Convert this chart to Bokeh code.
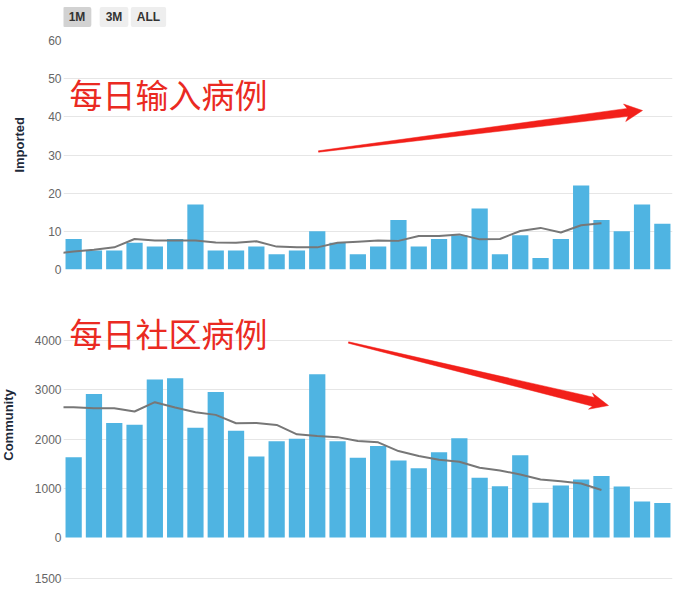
import math
from bokeh.plotting import figure
from bokeh.layouts import column, row
from bokeh.models import Label, FixedTicker, Range1d
from bokeh.embed import file_html
from bokeh.resources import INLINE

# ---------------- data ----------------
imported = [8, 5, 5, 7, 6, 8, 17, 5, 5, 6, 4, 5, 10, 7, 4, 6, 13, 6, 8, 9,
            16, 4, 9, 3, 8, 22, 13, 10, 17, 12]
community = [1630, 2915, 2325, 2290, 3207, 3234, 2230, 2956, 2170, 1647,
             1953, 2007, 3315, 1953, 1620, 1860, 1562, 1405, 1732, 2017,
             1212, 1042, 1670, 705, 1058, 1178, 1250, 1037, 732, 698]
# 7-day averages, day index -1 .. 26
avg_days = list(range(-1, 27))
imported_avg = [4.1, 4.7, 5.2, 5.8, 8.0, 7.6, 7.6, 7.6, 7.1, 7.0, 7.4, 6.0,
                5.8, 5.8, 7.0, 7.3, 7.6, 7.5, 8.8, 8.8, 9.2, 7.9, 8.0, 10.1,
                10.9, 9.7, 11.6, 12.1]
community_avg = [2646, 2646, 2626, 2626, 2558, 2748, 2639, 2544, 2490, 2320,
                 2327, 2286, 2095, 2061, 2038, 1959, 1932, 1755, 1653, 1578,
                 1537, 1415, 1361, 1279, 1177, 1143, 1095, 966]
days = list(range(len(imported)))

top_ticks = [0, 10, 20, 30, 40, 50, 60]
bot_ticks = [0, 1000, 2000, 3000, 4000]
next_pane_tick_label = "1500"
buttons = ["1M", "3M", "ALL"]
title_top = "每日输入病例"
title_bot = "每日社区病例"
axis_title_top = "Imported"
axis_title_bot = "Community"

# ---------------- style / geometry (page px) ----------------
BAR = "#4fb4e2"
AVG = "#777777"
GRID = "#e6e6e6"
RED_TXT = "#ea2a22"
RED_ARR = "#f2201a"
TICK_FONT = "Liberation Sans"
CJK = "Noto Sans CJK SC"
TITLE_COL = "#1e2a3a"

LBL_W = 30           # width of the side strip holding the axis titles
FRAME_L = 63
FRAME_W = 609
RIGHT = 14
XR = (-0.5, len(days) - 0.5)

# top pane
T_FTOP, T_FBOT = 2, 269
T_ZERO, T_PPU = 269, 229 / 60
T_GAP = 20
T_H = T_FTOP + (T_FBOT - T_FTOP) + T_GAP
# bottom pane
B_Y0 = T_H
B_FTOP, B_FBOT = 295, 590
B_ZERO, B_PPU = 537, 197 / 4000
B_H = (B_FTOP - B_Y0) + (B_FBOT - B_FTOP) + 2


def px_x(px):
    return XR[0] + (px - FRAME_L) / FRAME_W * (XR[1] - XR[0])


def ty(py):
    return (T_ZERO - py) / T_PPU


def by(py):
    return (B_ZERO - py) / B_PPU


def arrow_poly(tail, tip, w0, w1, head_len, head_half):
    dx, dy = tip[0] - tail[0], tip[1] - tail[1]
    L = math.hypot(dx, dy)
    ux, uy = dx / L, dy / L
    nx, ny = -uy, ux
    bx, by_ = tip[0] - ux * head_len, tip[1] - uy * head_len
    return [
        (tail[0] + nx * w0, tail[1] + ny * w0),
        (bx + nx * w1, by_ + ny * w1),
        (bx + nx * head_half - ux * 3, by_ + ny * head_half - uy * 3),
        tip,
        (bx - nx * head_half - ux * 3, by_ - ny * head_half - uy * 3),
        (bx - nx * w1, by_ - ny * w1),
        (tail[0] - nx * w0, tail[1] - ny * w0),
    ]


def style(p):
    p.outline_line_color = None
    p.xgrid.visible = False
    p.ygrid.grid_line_color = GRID
    p.ygrid.grid_line_width = 1
    ax = p.yaxis[0]
    ax.axis_line_color = None
    ax.major_tick_line_color = None
    ax.minor_tick_line_color = None
    ax.major_tick_out = 0
    ax.major_tick_in = 0
    ax.minor_tick_out = 0
    ax.major_label_standoff = 2
    ax.major_label_text_font = TICK_FONT
    ax.major_label_text_font_size = "12px"
    ax.major_label_text_color = "#666666"
    p.background_fill_color = "white"
    p.border_fill_color = "white"


def side_strip(height, text, cx, cy):
    s = figure(width=LBL_W, height=height, x_range=Range1d(0, LBL_W),
               y_range=Range1d(height, 0), output_backend="svg",
               toolbar_location=None, x_axis_location=None, y_axis_location=None,
               min_border=0)
    s.outline_line_color = None
    s.grid.visible = False
    s.add_layout(Label(x=cx, y=cy, text=text, angle=math.pi / 2,
                       text_font=TICK_FONT, text_font_size="13px",
                       text_font_style="bold", text_color=TITLE_COL,
                       text_align="center", text_baseline="middle"))
    return s


# ---------------- top figure ----------------
p1 = figure(frame_width=FRAME_W, frame_height=T_FBOT - T_FTOP,
            x_range=Range1d(*XR), y_range=Range1d(ty(T_FBOT), ty(T_FTOP)),
            output_backend="svg", toolbar_location=None, x_axis_location=None,
            min_border_left=FRAME_L - LBL_W, min_border_right=RIGHT,
            min_border_top=T_FTOP, min_border_bottom=T_GAP)
style(p1)
p1.yaxis[0].ticker = FixedTicker(ticks=top_ticks)
p1.ygrid[0].ticker = FixedTicker(ticks=top_ticks[1:-1])

p1.vbar(x=days, top=imported, width=0.8, fill_color=BAR, line_color=None)
p1.line(x=avg_days, y=imported_avg, line_color=AVG, line_width=2)

pts = arrow_poly((318, 151), (642, 110), 0.7, 4.0, 15, 8.8)
p1.patch([px_x(a) for a, b in pts], [ty(b) for a, b in pts],
         fill_color=RED_ARR, line_color=RED_ARR, line_width=0.5)

p1.add_layout(Label(x=px_x(69), y=ty(93), text=title_top, text_font=CJK,
                    text_font_size="33px", text_color=RED_TXT,
                    text_align="left", text_baseline="middle"))

btn_centers = [76.5, 113.5, 148]
for name, cx in zip(buttons, btn_centers):
    p1.add_layout(Label(x=px_x(cx), y=ty(16.5), text=name,
                        text_font=TICK_FONT, text_font_size="12px",
                        text_font_style="bold", text_color="#333333",
                        text_align="center", text_baseline="middle",
                        background_fill_color="#d2d2d2" if name == "1M" else "#eeeeee",
                        padding=(6, 3), border_radius=2))

s1 = side_strip(T_H, axis_title_top, 18.5, 154)

# ---------------- bottom figure ----------------
next_pane_tick = by(578)

p2 = figure(frame_width=FRAME_W, frame_height=B_FBOT - B_FTOP,
            x_range=Range1d(*XR), y_range=Range1d(by(B_FBOT), by(B_FTOP)),
            output_backend="svg", toolbar_location=None, x_axis_location=None,
            min_border_left=FRAME_L - LBL_W, min_border_right=RIGHT,
            min_border_top=B_FTOP - B_Y0, min_border_bottom=2)
style(p2)
p2.yaxis[0].ticker = FixedTicker(ticks=[next_pane_tick] + bot_ticks)
p2.yaxis[0].major_label_overrides = {next_pane_tick: next_pane_tick_label}
p2.ygrid[0].ticker = FixedTicker(ticks=[next_pane_tick] + bot_ticks[1:])

p2.vbar(x=days, top=community, width=0.8, fill_color=BAR, line_color=None)
p2.line(x=avg_days, y=community_avg, line_color=AVG, line_width=2)

pts2 = arrow_poly((348, 342), (608, 405), 0.7, 4.5, 15.5, 8.3)
p2.patch([px_x(a) for a, b in pts2], [by(b) for a, b in pts2],
         fill_color=RED_ARR, line_color=RED_ARR, line_width=0.5)

p2.add_layout(Label(x=px_x(69), y=by(332), text=title_bot, text_font=CJK,
                    text_font_size="33px", text_color=RED_TXT,
                    text_align="left", text_baseline="middle"))

s2 = side_strip(B_H, axis_title_bot, 8, 422 - B_Y0)

layout = column(row(s1, p1, spacing=0), row(s2, p2, spacing=0), spacing=0)
open("out.html", "w").write(file_html(layout, INLINE))
